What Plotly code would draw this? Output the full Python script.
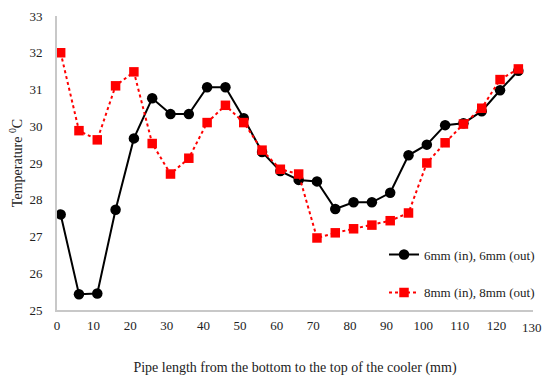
import plotly.graph_objects as go

x_vals = [1, 6, 11, 16, 21, 26, 31, 36, 41, 46, 51, 56, 61, 66, 71, 76, 81, 86, 91, 96, 101, 106, 111, 116, 121, 126]
temp_6mm = [27.60, 25.43, 25.45, 27.73, 29.67, 30.76, 30.33, 30.33, 31.06, 31.06, 30.22, 29.30, 28.78, 28.54, 28.50, 27.75, 27.93, 27.93, 28.19, 29.21, 29.50, 30.03, 30.08, 30.41, 30.98, 31.51]
temp_8mm = [32.00, 29.88, 29.63, 31.10, 31.48, 29.53, 28.70, 29.13, 30.10, 30.57, 30.10, 29.35, 28.83, 28.70, 26.96, 27.10, 27.21, 27.31, 27.43, 27.64, 29.00, 29.55, 30.06, 30.49, 31.27, 31.56]
name_6 = "6mm (in), 6mm (out)"
name_8 = "8mm (in), 8mm (out)"
x_ticks = list(range(0, 121, 10))
x_last_tick = 130
y_ticks = list(range(25, 34, 1))

font = "Times New Roman, Liberation Serif, serif"

fig = go.Figure()
fig.add_trace(go.Scatter(
    x=x_vals, y=temp_6mm, name=name_6, mode="lines+markers",
    line=dict(color="black", width=2),
    marker=dict(symbol="circle", size=10.5, color="black"),
    legendgroup="a",
))
fig.add_trace(go.Scatter(
    x=x_vals, y=temp_8mm, name=name_8, mode="lines+markers",
    line=dict(color="#ff0000", width=2, dash="dot"),
    marker=dict(symbol="square", size=9.5, color="#ff0000"),
    legendgroup="b",
))

fig.add_annotation(
    x=x_last_tick, y=0, xref="x", yref="paper", text=str(x_last_tick),
    showarrow=False, yanchor="top", yshift=-8, xanchor="center", xshift=-1,
    font=dict(family=font, size=13, color="#222"),
)

fig.update_layout(
    width=542, height=376,
    margin=dict(l=57, r=9, t=16, b=66, autoexpand=False),
    paper_bgcolor="white", plot_bgcolor="white",
    font=dict(family=font, size=13, color="#222"),
    showlegend=True,
    legend=dict(
        x=0.687, y=0.124, xanchor="left", yanchor="middle",
        bgcolor="rgba(255,255,255,0)",
        font=dict(family=font, size=13, color="#222"),
        tracegroupgap=18,
        traceorder="grouped",
    ),
    xaxis=dict(
        range=[0, 130], tickvals=x_ticks, showgrid=False, zeroline=False,
        showline=True, linecolor="#c8c8c8", linewidth=2, ticks="",
        ticklabelstandoff=2, automargin=False,
        title=dict(text="Pipe length from the bottom to the top of the cooler (mm)",
                   font=dict(family=font, size=14, color="#222"), standoff=32),
    ),
    yaxis=dict(
        range=[25, 33], tickvals=y_ticks, showgrid=False, zeroline=False,
        showline=True, linecolor="#c8c8c8", linewidth=2, ticks="",
        ticklabelstandoff=10, automargin=False,
        title=dict(text="Temperature <sup>0</sup>C",
                   font=dict(family=font, size=14, color="#222"), standoff=4),
    ),
)

fig.write_html("out.html", config={"displayModeBar": False},
               post_script="document.body.style.margin='0';")
